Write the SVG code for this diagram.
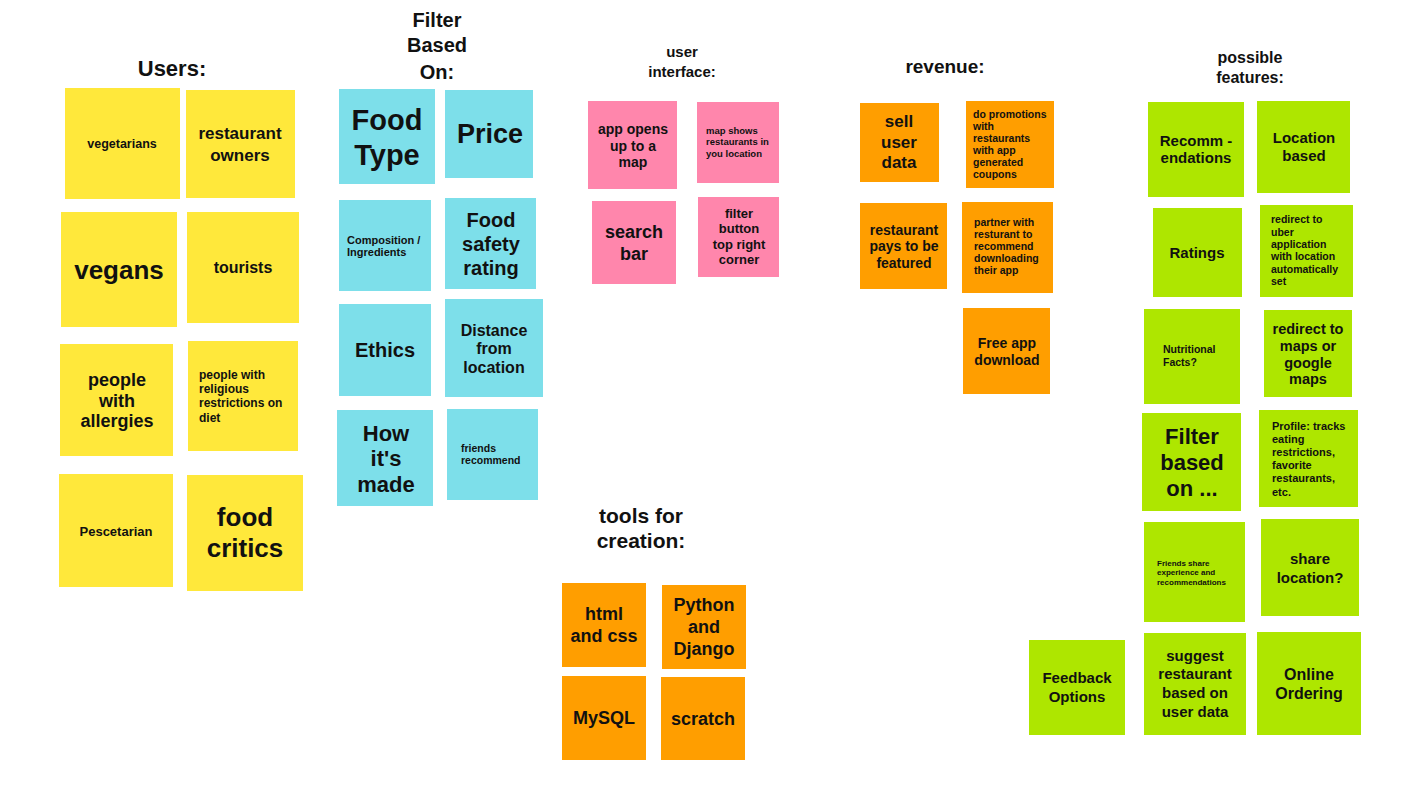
<svg xmlns="http://www.w3.org/2000/svg" width="1422" height="800" viewBox="0 0 1422 800">
<style>
text{font-family:"Liberation Sans",Arial,sans-serif;font-weight:700;fill:#111;}
.c{text-anchor:middle;}
.y{fill:#FFE83B;}
.b{fill:#7DDFEA;}
.p{fill:#FF86AC;}
.o{fill:#FF9E00;}
.g{fill:#AEE600;}
</style>
<rect width="1422" height="800" fill="#fff"/>
<g id="titles">
<text class="c" x="172" y="76" font-size="22">Users:</text>
<text class="c" font-size="20"><tspan x="437" y="27">Filter</tspan><tspan x="437" y="52">Based</tspan><tspan x="437" y="79">On:</tspan></text>
<text class="c" font-size="15"><tspan x="682" y="57">user</tspan><tspan x="682" y="77">interface:</tspan></text>
<text class="c" font-size="21"><tspan x="641" y="523">tools for</tspan><tspan x="641" y="548">creation:</tspan></text>
<text class="c" x="945" y="73" font-size="19">revenue:</text>
<text class="c" font-size="16"><tspan x="1250" y="63">possible</tspan><tspan x="1250" y="83">features:</tspan></text>
</g>
<g id="connectors"></g>
<!-- Users -->
<g id="vegetarians"><rect class="y" x="65" y="88" width="115" height="111"/><text class="c" x="122" y="148" font-size="12.5">vegetarians</text></g>
<g id="restaurant-owners"><rect class="y" x="186" y="90" width="109" height="108"/><text class="c" font-size="17"><tspan x="240" y="139">restaurant</tspan><tspan x="240" y="161">owners</tspan></text></g>
<g id="vegans"><rect class="y" x="61" y="212" width="116" height="115"/><text class="c" x="119" y="279" font-size="26">vegans</text></g>
<g id="tourists"><rect class="y" x="187" y="212" width="112" height="111"/><text class="c" x="243" y="273" font-size="16">tourists</text></g>
<g id="allergies"><rect class="y" x="60" y="344" width="113" height="112"/><text class="c" font-size="18"><tspan x="117" y="386">people</tspan><tspan x="117" y="407">with</tspan><tspan x="117" y="427">allergies</tspan></text></g>
<g id="religious"><rect class="y" x="188" y="341" width="110" height="110"/><text font-size="12"><tspan x="199" y="379">people with</tspan><tspan x="199" y="393">religious</tspan><tspan x="199" y="407">restrictions on</tspan><tspan x="199" y="422">diet</tspan></text></g>
<g id="pescetarian"><rect class="y" x="59" y="474" width="114" height="113"/><text class="c" x="116" y="536" font-size="13">Pescetarian</text></g>
<g id="food-critics"><rect class="y" x="187" y="475" width="116" height="116"/><text class="c" font-size="26"><tspan x="245" y="526">food</tspan><tspan x="245" y="557">critics</tspan></text></g>
<!-- Filter -->
<g id="food-type"><rect class="b" x="339" y="89" width="96" height="95"/><text class="c" font-size="29"><tspan x="387" y="130">Food</tspan><tspan x="387" y="165">Type</tspan></text></g>
<g id="price"><rect class="b" x="445" y="90" width="88" height="88"/><text class="c" x="490" y="143" font-size="27">Price</text></g>
<g id="composition"><rect class="b" x="339" y="200" width="92" height="91"/><text font-size="11"><tspan x="347" y="244">Composition /</tspan><tspan x="347" y="256">Ingredients</tspan></text></g>
<g id="food-safety"><rect class="b" x="445" y="198" width="91" height="91"/><text class="c" font-size="20"><tspan x="491" y="227">Food</tspan><tspan x="491" y="251">safety</tspan><tspan x="491" y="275">rating</tspan></text></g>
<g id="ethics"><rect class="b" x="339" y="304" width="92" height="92"/><text class="c" x="385" y="357" font-size="20">Ethics</text></g>
<g id="distance"><rect class="b" x="445" y="299" width="98" height="98"/><text class="c" font-size="16"><tspan x="494" y="336">Distance</tspan><tspan x="494" y="354">from</tspan><tspan x="494" y="373">location</tspan></text></g>
<g id="how-made"><rect class="b" x="337" y="410" width="96" height="96"/><text class="c" font-size="22"><tspan x="386" y="441">How</tspan><tspan x="386" y="466">it's</tspan><tspan x="386" y="492">made</tspan></text></g>
<g id="friends-recommend"><rect class="b" x="447" y="409" width="91" height="91"/><text font-size="10.5"><tspan x="461" y="452">friends</tspan><tspan x="461" y="464">recommend</tspan></text></g>
<!-- UI -->
<g id="app-opens"><rect class="p" x="588" y="101" width="89" height="88"/><text class="c" font-size="14"><tspan x="633" y="134">app opens</tspan><tspan x="633" y="151">up to a</tspan><tspan x="633" y="167">map</tspan></text></g>
<g id="map-shows"><rect class="p" x="697" y="102" width="82" height="81"/><text font-size="9.5"><tspan x="706" y="134">map shows</tspan><tspan x="706" y="145">restaurants in</tspan><tspan x="706" y="157">you location</tspan></text></g>
<g id="search-bar"><rect class="p" x="592" y="201" width="84" height="83"/><text class="c" font-size="18"><tspan x="634" y="238">search</tspan><tspan x="634" y="260">bar</tspan></text></g>
<g id="filter-button"><rect class="p" x="698" y="197" width="81" height="80"/><text class="c" font-size="13"><tspan x="739" y="218">filter</tspan><tspan x="739" y="233">button</tspan><tspan x="739" y="249">top right</tspan><tspan x="739" y="264">corner</tspan></text></g>
<!-- Tools -->
<g id="html-css"><rect class="o" x="562" y="583" width="84" height="84"/><text class="c" font-size="18"><tspan x="604" y="620">html</tspan><tspan x="604" y="642">and css</tspan></text></g>
<g id="python-django"><rect class="o" x="662" y="585" width="84" height="84"/><text class="c" font-size="18"><tspan x="704" y="611">Python</tspan><tspan x="704" y="633">and</tspan><tspan x="704" y="655">Django</tspan></text></g>
<g id="mysql"><rect class="o" x="562" y="676" width="84" height="84"/><text class="c" x="604" y="724" font-size="18">MySQL</text></g>
<g id="scratch"><rect class="o" x="661" y="677" width="84" height="83"/><text class="c" x="703" y="725" font-size="18">scratch</text></g>
<!-- Revenue -->
<g id="sell-data"><rect class="o" x="860" y="103" width="79" height="79"/><text class="c" font-size="17"><tspan x="899" y="127">sell</tspan><tspan x="899" y="148">user</tspan><tspan x="899" y="168">data</tspan></text></g>
<g id="promotions"><rect class="o" x="966" y="101" width="88" height="87"/><text font-size="10.5"><tspan x="973" y="118">do promotions</tspan><tspan x="973" y="130">with</tspan><tspan x="973" y="142">restaurants</tspan><tspan x="973" y="154">with app</tspan><tspan x="973" y="166">generated</tspan><tspan x="973" y="178">coupons</tspan></text></g>
<g id="restaurant-pays"><rect class="o" x="860" y="203" width="87" height="86"/><text class="c" font-size="14"><tspan x="904" y="235">restaurant</tspan><tspan x="904" y="251">pays to be</tspan><tspan x="904" y="268">featured</tspan></text></g>
<g id="partner"><rect class="o" x="962" y="202" width="91" height="91"/><text font-size="10.5"><tspan x="974" y="226">partner with</tspan><tspan x="974" y="238">resturant to</tspan><tspan x="974" y="250">recommend</tspan><tspan x="974" y="262">downloading</tspan><tspan x="974" y="274">their app</tspan></text></g>
<g id="free-app"><rect class="o" x="963" y="308" width="87" height="86"/><text class="c" font-size="14"><tspan x="1007" y="348">Free app</tspan><tspan x="1007" y="365">download</tspan></text></g>
<!-- Features -->
<g id="recommendations"><rect class="g" x="1148" y="102" width="96" height="95"/><text class="c" font-size="15"><tspan x="1196" y="146">Recomm -</tspan><tspan x="1196" y="163">endations</tspan></text></g>
<g id="location-based"><rect class="g" x="1257" y="101" width="93" height="92"/><text class="c" font-size="15"><tspan x="1304" y="143">Location</tspan><tspan x="1304" y="161">based</tspan></text></g>
<g id="ratings"><rect class="g" x="1153" y="208" width="89" height="89"/><text class="c" x="1197" y="258" font-size="15">Ratings</text></g>
<g id="redirect-uber"><rect class="g" x="1260" y="205" width="93" height="92"/><text font-size="10.5"><tspan x="1271" y="223">redirect to</tspan><tspan x="1271" y="236">uber</tspan><tspan x="1271" y="248">application</tspan><tspan x="1271" y="260">with location</tspan><tspan x="1271" y="273">automatically</tspan><tspan x="1271" y="285">set</tspan></text></g>
<g id="nutritional"><rect class="g" x="1144" y="309" width="96" height="95"/><text font-size="10.5"><tspan x="1163" y="353">Nutritional</tspan><tspan x="1163" y="366">Facts?</tspan></text></g>
<g id="redirect-maps"><rect class="g" x="1264" y="310" width="88" height="87"/><text class="c" font-size="14.5"><tspan x="1308" y="334">redirect to</tspan><tspan x="1308" y="351">maps or</tspan><tspan x="1308" y="368">google</tspan><tspan x="1308" y="384">maps</tspan></text></g>
<g id="filter-based"><rect class="g" x="1142" y="413" width="99" height="98"/><text class="c" font-size="22"><tspan x="1192" y="444">Filter</tspan><tspan x="1192" y="470">based</tspan><tspan x="1192" y="496">on ...</tspan></text></g>
<g id="profile"><rect class="g" x="1259" y="410" width="99" height="97"/><text font-size="11"><tspan x="1272" y="430">Profile: tracks</tspan><tspan x="1272" y="443">eating</tspan><tspan x="1272" y="456">restrictions,</tspan><tspan x="1272" y="469">favorite</tspan><tspan x="1272" y="482">restaurants,</tspan><tspan x="1272" y="496">etc.</tspan></text></g>
<g id="friends-share"><rect class="g" x="1144" y="522" width="101" height="100"/><text font-size="8"><tspan x="1157" y="566">Friends share</tspan><tspan x="1157" y="575">experience and</tspan><tspan x="1157" y="585">recommendations</tspan></text></g>
<g id="share-location"><rect class="g" x="1261" y="519" width="98" height="97"/><text class="c" font-size="15"><tspan x="1310" y="564">share</tspan><tspan x="1310" y="583">location?</tspan></text></g>
<g id="feedback"><rect class="g" x="1029" y="640" width="96" height="95"/><text class="c" font-size="15"><tspan x="1077" y="683">Feedback</tspan><tspan x="1077" y="702">Options</tspan></text></g>
<g id="suggest"><rect class="g" x="1144" y="633" width="102" height="102"/><text class="c" font-size="15"><tspan x="1195" y="661">suggest</tspan><tspan x="1195" y="679">restaurant</tspan><tspan x="1195" y="698">based on</tspan><tspan x="1195" y="717">user data</tspan></text></g>
<g id="online-ordering"><rect class="g" x="1257" y="632" width="104" height="103"/><text class="c" font-size="16"><tspan x="1309" y="680">Online</tspan><tspan x="1309" y="699">Ordering</tspan></text></g>
</svg>
